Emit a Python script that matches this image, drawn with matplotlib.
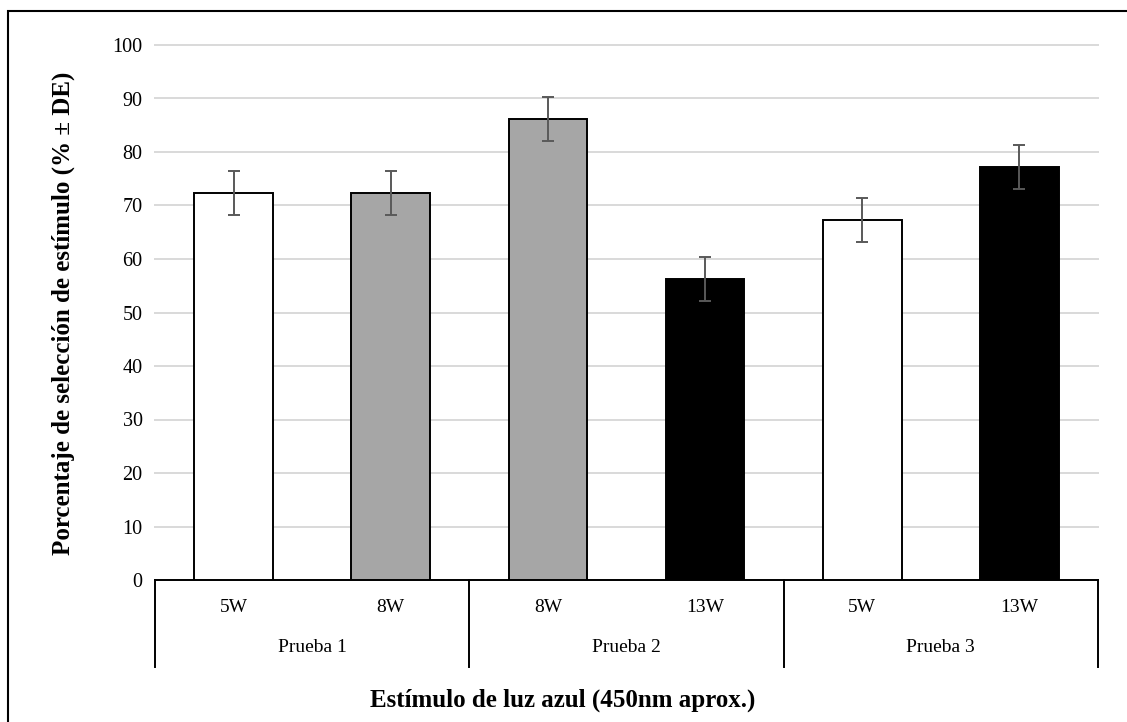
import matplotlib
matplotlib.use("Agg")
import matplotlib.pyplot as plt
from matplotlib.patches import Rectangle

# ---- data ----
groups = ["Prueba 1", "Prueba 2", "Prueba 3"]
categories = ["5W", "8W", "8W", "13W", "5W", "13W"]
group_of = [0, 0, 1, 1, 2, 2]
values = [72.3, 72.3, 86.2, 56.2, 67.3, 77.2]
errors = [4.1, 4.1, 4.1, 4.1, 4.1, 4.1]
bar_colors = ["#ffffff", "#a6a6a6", "#a6a6a6", "#000000", "#ffffff", "#000000"]
yticks = [0, 10, 20, 30, 40, 50, 60, 70, 80, 90, 100]
ylabel = "Porcentaje de selección de estímulo (% ± DE)"
xlabel = "Estímulo de luz azul (450nm aprox.)"

W, H = 1127, 722
DPI = 100
plt.rcParams["font.family"] = ["Liberation Serif", "DejaVu Serif"]
fig = plt.figure(figsize=(W / DPI, H / DPI), dpi=DPI)

# figure border (top and left visible; right/bottom cropped)
fig.patches.append(Rectangle((8 / W, -0.1), 1.2, (H - 11) / H + 0.1,
                             transform=fig.transFigure, fill=False,
                             edgecolor="black", linewidth=1.5, zorder=0))

x0, x1 = 155, 1098
ytop, ybot = 45, 580
ax = fig.add_axes([x0 / W, (H - ybot) / H, (x1 - x0) / W, (ybot - ytop) / H])

n = len(categories)
xs = list(range(n))
ax.bar(xs, values, width=0.5, color=bar_colors, edgecolor="black",
       linewidth=1.4, zorder=3)
ax.errorbar(xs, values, yerr=errors, fmt="none", ecolor="#595959",
            elinewidth=1.4, capsize=4, capthick=1.4, zorder=4)

ax.set_xlim(-0.5, n - 0.5)
ax.set_ylim(0, 100)
ax.set_yticks(yticks)
ax.set_yticklabels([str(t) for t in yticks], fontsize=14.5)
ax.tick_params(axis="y", length=0, pad=9)
ax.set_xticks([])
ax.grid(axis="y", color="#d9d9d9", linewidth=1.4, zorder=0)
for gl in ax.get_ygridlines():
    gl.set_clip_on(False)
ax.set_axisbelow(True)
for s in ["top", "right", "left"]:
    ax.spines[s].set_visible(False)
ax.spines["bottom"].set_color("black")
ax.spines["bottom"].set_linewidth(1.4)

# hierarchical category axis
trans = ax.get_xaxis_transform()
px = 1.0 / (ybot - ytop)  # one pixel in axes fraction
div_bottom = -(667 - ybot) * px
bounds = [-0.5]
for g in range(len(groups)):
    members = [i for i in xs if group_of[i] == g]
    bounds.append(max(members) + 0.5)
for b in bounds:
    ax.plot([b, b], [0, div_bottom], transform=trans, color="black",
            linewidth=1.4, clip_on=False)
for i, c in enumerate(categories):
    ax.text(i, -(608 - ybot) * px, c, transform=trans, ha="center",
            va="center", fontsize=14)
for g, name in enumerate(groups):
    members = [i for i in xs if group_of[i] == g]
    cx = sum(members) / len(members)
    ax.text(cx, -(648 - ybot) * px, name, transform=trans, ha="center",
            va="center", fontsize=14)

fig.text(563 / W, 1 - 700 / H, xlabel, ha="center", va="center",
         fontsize=18, fontweight="bold")
fig.text(63 / W, 1 - 313 / H, ylabel, ha="center", va="center",
         fontsize=18, fontweight="bold", rotation=90)

fig.savefig("out.png", dpi=DPI)
